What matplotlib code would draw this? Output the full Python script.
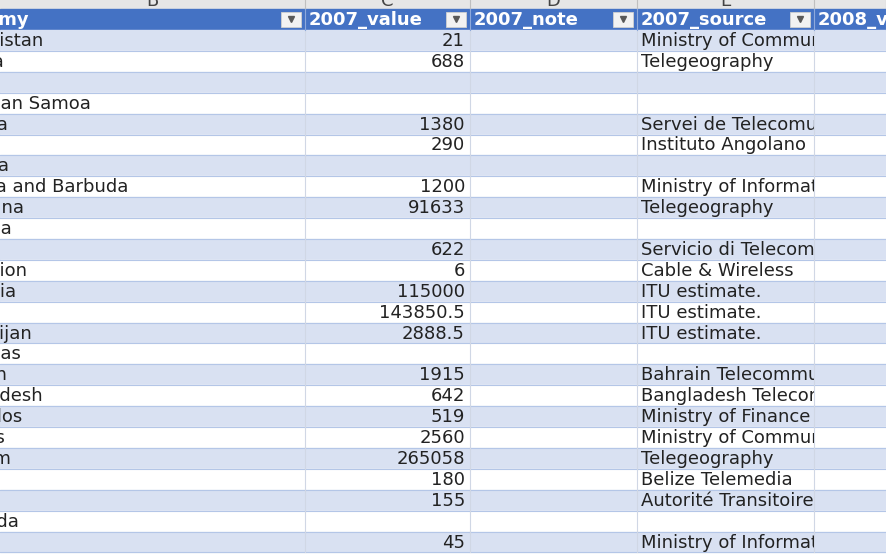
import matplotlib.pyplot as plt
from matplotlib.patches import Rectangle
from matplotlib.transforms import Bbox

plt.rcParams["font.family"] = ["DejaVu Sans"]

# column layout (pixel coordinates of the screenshot)
col_letters = ["B", "C", "D", "E", ""]
col_edges = [-66, 305, 470, 637, 814, 1000]
headers = ["Economy", "2007_value", "2007_note", "2007_source", "2008_value"]

economies = [
    "Afghanistan", "Albania", "Algeria", "American Samoa", "Andorra", "Angola",
    "Anguilla", "Antigua and Barbuda", "Argentina", "Armenia", "Aruba",
    "Ascension", "Australia", "Austria", "Azerbaijan", "Bahamas", "Bahrain",
    "Bangladesh", "Barbados", "Belarus", "Belgium", "Belize", "Benin",
    "Bermuda", "Bhutan",
]
values_2007 = [
    "21", "688", "", "", "1380", "290", "", "1200", "91633", "", "622", "6",
    "115000", "143850.5", "2888.5", "", "1915", "642", "519", "2560",
    "265058", "180", "155", "", "45",
]
sources_2007 = [
    "Ministry of Communications", "Telegeography", "", "",
    "Servei de Telecomunicacions", "Instituto Angolano", "",
    "Ministry of Information", "Telegeography", "",
    "Servicio di Telecomunicacion", "Cable & Wireless", "ITU estimate.",
    "ITU estimate.", "ITU estimate.", "", "Bahrain Telecommunications",
    "Bangladesh Telecom", "Ministry of Finance", "Ministry of Communications",
    "Telegeography", "Belize Telemedia", "Autorité Transitoire", "",
    "Ministry of Information",
]

W, H = 886, 554
top_letters = 9
header_bottom = 30
row_h = 20.9
FS = 13

fig = plt.figure(figsize=(W / 100, H / 100), dpi=100)
ax = fig.add_axes([0, 0, 1, 1])
ax.set_xlim(0, W)
ax.set_ylim(H, 0)
ax.axis("off")


def clip_text(txt, x0, x1, y0, y1):
    (ax0, ay0), (ax1, ay1) = ax.transData.transform([[x0, y0], [x1, y1]])
    box = Bbox.from_extents(min(ax0, ax1), min(ay0, ay1),
                            max(ax0, ax1), max(ay0, ay1))
    txt.set_clip_box(box)
    txt.set_clip_on(True)


# column letter strip
ax.add_patch(Rectangle((0, 0), W, top_letters, color="#E6E6E6", zorder=0))
for i, letter in enumerate(col_letters):
    x0, x1 = max(col_edges[i], 0), min(col_edges[i + 1], W)
    if letter:
        t = ax.text((x0 + x1) / 2, 1, letter, ha="center", va="center",
                    fontsize=FS, color="#444444")
        clip_text(t, x0, x1, 0, top_letters)
    ax.plot([x1, x1], [0, top_letters], color="#BFBFBF", lw=0.8)

# header band
ax.add_patch(Rectangle((0, top_letters), W, header_bottom - top_letters,
                       color="#4472C4", zorder=0))

for i, h in enumerate(headers):
    x0, x1 = col_edges[i], min(col_edges[i + 1], W)
    t = ax.text(x0 + 4, (top_letters + header_bottom) / 2 + 0.5, h, ha="left",
                va="center", fontsize=FS, fontweight="semibold", color="white")
    clip_text(t, max(x0, 0), x1 - 24 if i < 4 else x1, top_letters, header_bottom)
    if i < 4:
        bx = x1 - 24
        ax.add_patch(Rectangle((bx, top_letters + 3), 20, 15,
                               facecolor="#F2F2F2", edgecolor="#D0D0D0",
                               lw=0.6, zorder=2))
        ax.plot([bx + 10], [top_letters + 10], marker="v", ms=4,
                color="#595959", zorder=3)
    ax.plot([x1, x1], [top_letters, header_bottom], color="#8EA9DB", lw=0.8)

# data rows
for r in range(len(economies)):
    y0 = header_bottom + r * row_h
    y1 = y0 + row_h
    yc = (y0 + y1) / 2 + 0.5
    color = "#D9E1F2" if r % 2 == 0 else "white"
    ax.add_patch(Rectangle((0, y0), W, row_h, color=color, zorder=0))
    ax.plot([0, W], [y1, y1], color="#B4C6E7", lw=0.8, zorder=1)

    t = ax.text(col_edges[0] + 3, yc, economies[r], ha="left", va="center",
                fontsize=FS, color="#222222")
    clip_text(t, 0, col_edges[1], y0, y1)
    ax.text(col_edges[2] - 5, yc, values_2007[r], ha="right", va="center",
            fontsize=FS, color="#222222")
    t = ax.text(col_edges[3] + 4, yc, sources_2007[r], ha="left", va="center",
                fontsize=FS, color="#222222")
    clip_text(t, col_edges[3], col_edges[4], y0, y1)

    for x in col_edges[1:5]:
        ax.plot([x, x], [y0, y1], color="#D0D7E5", lw=0.8, zorder=1)

fig.savefig("out.png", dpi=100)
